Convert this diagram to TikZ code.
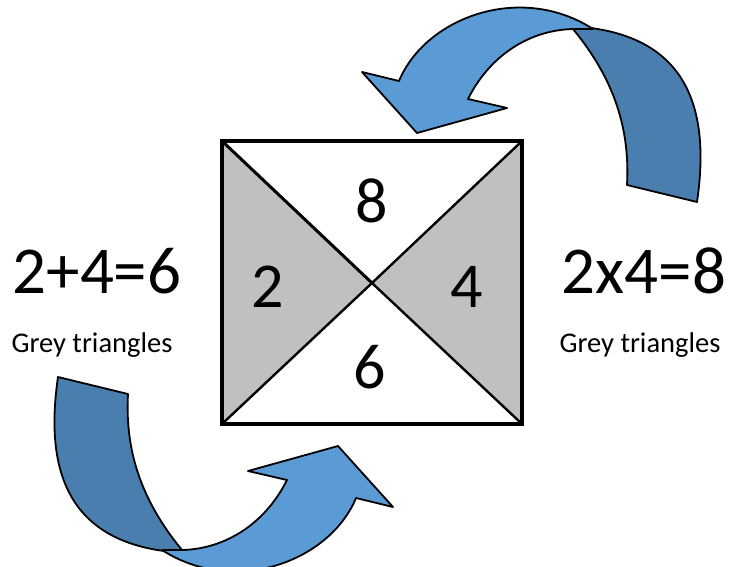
\documentclass[tikz,border=0pt]{standalone}
\usepackage{fontspec}
\setmainfont{Carlito}
\usetikzlibrary{calc,positioning}
\definecolor{arrowlight}{HTML}{5B9BD5}
\definecolor{arrowdark}{HTML}{4A7EAF}
\definecolor{trigrey}{HTML}{C0C0C0}

\begin{document}
\begin{tikzpicture}[
  x=1pt, y=-1pt,
  every node/.style={inner sep=0pt, font=\fontsize{64}{70}\selectfont},
  sumtext/.style={font=\fontsize{67}{72}\selectfont},
  smalltext/.style={font=\fontsize{28.5}{32}\selectfont, anchor=base},
  ribbon/.style={draw=black, line width=1.8pt, line join=round}
]
\useasboundingbox (0,0) rectangle (736,567);

% square and its corners
\coordinate (tl) at (222,141);
\coordinate (tr) at (522,141);
\coordinate (br) at (522,424);
\coordinate (bl) at (222,424);
\coordinate (mid) at (372,283);

\fill[trigrey] (tl) -- (mid) -- (bl) -- cycle;
\fill[trigrey] (tr) -- (mid) -- (br) -- cycle;
\draw[line width=3pt] (tl) -- (mid);
\draw[line width=2.4pt] (mid) -- (br) (tr) -- (mid) -- (bl);
\draw[line width=4pt] (tl) rectangle (br);

\node (eight) at (372,201) {8};
\node (two)   at (268,287) {2};
\node (four)  at (467,287) {4};
\node (six)   at (370,367) {6};

% sums
\node[sumtext] (sumleft)  at (97,271)  {2+4=6};
\node[sumtext] (sumright) at (644,271) {2x4=8};
\node[smalltext] (greyleft)  at (92,352)  {Grey triangles};
\node[smalltext] (greyright) at (640,352) {Grey triangles};

% curved arrows, the lower one is the upper one turned round
\foreach \turn in {0,180} {
  \begin{scope}[rotate around={\turn:(377.5,289.5)}]
    \filldraw[ribbon, fill=arrowdark]
      (573,29) .. controls (615,80) and (630,130) .. (627,185)
      -- (697,202) .. controls (712,100) and (680,40) .. (591,28) -- cycle;
    \filldraw[ribbon, fill=arrowlight]
      (399,81) -- (362,72) -- (417,133) -- (507,108) -- (468,99)
      .. controls (490,55) and (530,30) .. (573,29) -- (593,29)
      .. controls (520,-18) and (425,18) .. (399,81) -- cycle;
  \end{scope}
}
\end{tikzpicture}
\end{document}
